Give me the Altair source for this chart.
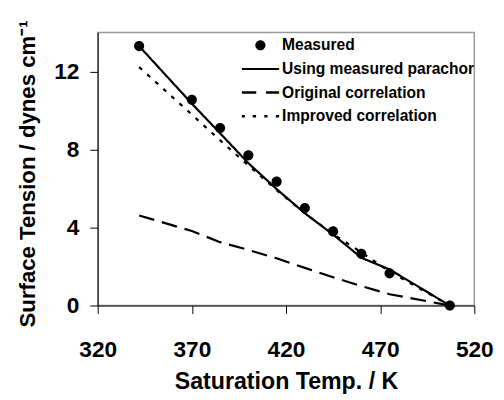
import altair as alt
import pandas as pd

temps = [342, 370, 385, 400, 415, 430, 445, 460, 475, 507]
measured = [13.3, 10.55, 9.1, 7.7, 6.35, 5.0, 3.8, 2.65, 1.65, 0.0]
parachor = [13.3, 10.35, 8.83, 7.3, 5.97, 4.73, 3.64, 2.45, 1.85, 0.0]
original = [4.62, 3.82, 3.25, 2.85, 2.42, 1.93, 1.45, 1.0, 0.58, 0.0]
improved = [12.22, 9.79, 8.47, 7.18, 5.92, 4.73, 3.66, 2.73, 1.74, 0.0]

series_names = ["Measured", "Using measured parachor", "Original correlation", "Improved correlation"]
x_ticks = [320, 370, 420, 470, 520]
y_ticks = [0, 4, 8, 12]

pts = pd.DataFrame({"T": temps, "sigma": measured, "series": series_names[0]})
lines = pd.concat([
    pd.DataFrame({"T": temps, "sigma": parachor, "series": series_names[1]}),
    pd.DataFrame({"T": temps, "sigma": original, "series": series_names[2]}),
    pd.DataFrame({"T": temps, "sigma": improved, "series": series_names[3]}),
])

FONT = "Liberation Sans"
SYM = 1444  # symbol box 38 px wide

# legend / point glyphs as unit-box SVG paths
circle_path = ("M0.27,0 C0.27,0.149 0.149,0.27 0,0.27 C-0.149,0.27 -0.27,0.149 -0.27,0 "
               "C-0.27,-0.149 -0.149,-0.27 0,-0.27 C0.149,-0.27 0.27,-0.149 0.27,0 Z")
solid_path = "M-1,-0.055H1V0.055H-1Z"
dashed_path = "M-1,-0.065H-0.22V0.065H-1Z M0.3,-0.065H1V0.065H0.3Z"
dotted_path = ("M-1,-0.065H-0.83V0.065H-1Z M-0.41,-0.065H-0.23V0.065H-0.41Z "
               "M0.21,-0.065H0.38V0.065H0.21Z M0.83,-0.065H1V0.065H0.83Z")

x = alt.X("T:Q", scale=alt.Scale(domain=[320, 520], nice=False),
          axis=alt.Axis(values=x_ticks, title="Saturation Temp. / K", grid=False,
                        domainColor="black", tickColor="black", tickSize=8, labelFlush=False,
                        labelFont=FONT, labelFontSize=23, labelFontWeight="bold", labelColor="black",
                        labelBaseline="alphabetic", labelPadding=44,
                        titleFont=FONT, titleFontSize=23.5, titleFontWeight="bold", titleColor="black",
                        titleBaseline="alphabetic", titleY=84, titleX=191))
y = alt.Y("sigma:Q", scale=alt.Scale(domain=[0, 14], nice=False),
          axis=alt.Axis(values=y_ticks, title="Surface Tension / dynes cm\u207b\u00b9", grid=False,
                        domainColor="black", tickColor="black", tickSize=8, labelFlush=False,
                        labelFont=FONT, labelFontSize=23, labelFontWeight="bold", labelColor="black",
                        labelPadding=11,
                        titleFont=FONT, titleFontSize=22.5, titleFontWeight="bold", titleColor="black",
                        titleBaseline="middle", titleX=-71, titleY=143))

line_layer = alt.Chart(lines).mark_line(color="black", strokeWidth=2.2).encode(
    x=x, y=y,
    strokeDash=alt.StrokeDash("series:N", scale=alt.Scale(domain=series_names[1:],
                              range=[[1, 0], [16, 8], [4, 7]]), legend=None),
)
pt_layer = alt.Chart(pts).mark_point(filled=True, color="black", opacity=1, size=SYM).encode(
    x=x, y=y,
    shape=alt.Shape("series:N",
                    scale=alt.Scale(domain=series_names,
                                    range=[circle_path, solid_path, dashed_path, dotted_path]),
                    legend=alt.Legend(
                        title=None, orient="none", legendX=146, legendY=5, padding=0,
                        labelFont=FONT, labelFontSize=15.8, labelFontWeight="bold",
                        labelColor="black", labelOffset=3, labelLimit=400,
                        symbolFillColor="black", symbolStrokeWidth=0, symbolSize=SYM,
                        symbolOpacity=1, clipHeight=16, rowPadding=8, symbolOffset=0)),
)

chart = alt.layer(line_layer, pt_layer).properties(
    width=382, height=277,
    autosize=alt.AutoSizeParams(type="none"),
    padding={"left": 91, "top": 22, "right": 22, "bottom": 92},
).configure_view(stroke="#999999", strokeWidth=1.5)

chart.save("out.html", embed_options={"renderer": "svg", "actions": False})
